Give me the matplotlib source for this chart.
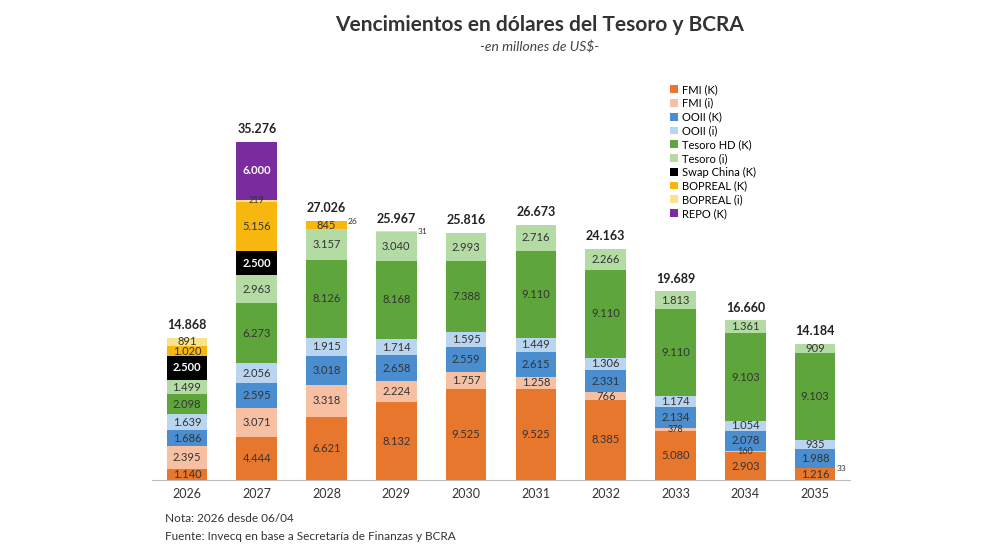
import matplotlib
matplotlib.use("Agg")
import matplotlib.pyplot as plt
import numpy as np

plt.rcParams['font.family'] = ['Lato', 'DejaVu Sans']

years = ["2026","2027","2028","2029","2030","2031","2032","2033","2034","2035"]
series = ["FMI (K)","FMI (i)","OOII (K)","OOII (i)","Tesoro HD (K)","Tesoro (i)",
          "Swap China (K)","BOPREAL (K)","BOPREAL (i)","REPO (K)"]
fmi_k   = [1140,4444,6621,8132,9525,9525,8385,5080,2903,1216]
fmi_i   = [2395,3071,3318,2224,1757,1258,766,378,160,33]
ooii_k  = [1686,2595,3018,2658,2559,2615,2331,2134,2078,1988]
ooii_i  = [1639,2056,1915,1714,1595,1449,1306,1174,1054,935]
tes_k   = [2098,6273,8126,8168,7388,9110,9110,9110,9103,9103]
tes_i   = [1499,2963,3157,3040,2993,2716,2266,1813,1361,909]
swap    = [2500,2500,0,0,0,0,0,0,0,0]
bop_k   = [1020,5156,845,0,0,0,0,0,0,0]
bop_i   = [891,219,26,31,0,0,0,0,0,0]
repo    = [0,6000,0,0,0,0,0,0,0,0]
totals  = ["14.868","35.276","27.026","25.967","25.816","26.673","24.163","19.689","16.660","14.184"]

data = [fmi_k,fmi_i,ooii_k,ooii_i,tes_k,tes_i,swap,bop_k,bop_i,repo]
colors = ["#E8772E","#F8C0A2","#4A8ED0","#B9D5EF","#5EA63B","#B5DBA4","#000000","#F8B70F","#F9E28E","#7A2C9E"]
txtcol = ["#333333"]*6 + ["white","#333333","#333333","white"]

fig = plt.figure(figsize=(9.9,5.58), dpi=100)
ax = fig.add_axes([152/990, 78/558, 698/990, 364/558])
x = np.arange(len(years))
bottom = np.zeros(len(years))
for vals, c, tc, name in zip(data, colors, txtcol, series):
    v = np.array(vals, float)
    ax.bar(x, v, 0.58, bottom=bottom, color=c, label=name)
    for i in range(len(x)):
        if v[i] > 0:
            lab = f"{int(v[i]):,}".replace(",", ".")
            if v[i] < 100:
                ax.text(x[i]+0.31, bottom[i]+v[i]/2, lab, ha="left", va="center",
                        fontsize=6, color=tc)
                continue
            fs = 8 if v[i] > 400 else 6.5
            ax.text(x[i], bottom[i]+v[i]/2, lab,
                    ha="center", va="center", fontsize=fs, color=tc,
                    fontweight="bold" if tc == "white" else "normal")
    bottom += v
for i in range(len(x)):
    ax.text(x[i], bottom[i]+700, totals[i], ha="center", va="bottom",
            fontsize=9, fontweight="bold", color="#222222")
ax.set_xlim(-0.5, 9.5)
ax.set_ylim(0, 38000)
ax.set_xticks(x)
ax.set_xticklabels(years, fontsize=9, color="#333333")
ax.tick_params(axis="x", length=0, pad=6)
ax.set_yticks([])
for s in ["top","right","left"]:
    ax.spines[s].set_visible(False)
ax.spines["bottom"].set_color("#bbbbbb")

fig.text(0.545, 0.945, "Vencimientos en dólares del Tesoro y BCRA", ha="center",
         fontsize=15, fontweight="bold", color="#333333")
fig.text(0.545, 0.908, "-en millones de US$-", ha="center", fontsize=10,
         style="italic", color="#444444")

handles, labels = ax.get_legend_handles_labels()
leg = fig.legend(handles, labels, loc="upper left", bbox_to_anchor=(660/990, 1-74/558),
                 frameon=False, fontsize=8, handlelength=0.7, handleheight=0.7,
                 labelspacing=0.25, handletextpad=0.4)

fig.text(165/990, 1-522/558, "Nota: 2026 desde 06/04", fontsize=8.5, color="#333333")
fig.text(165/990, 1-540/558, "Fuente: Invecq en base a Secretaría de Finanzas y BCRA",
         fontsize=8.5, color="#333333")
fig.savefig("out.png", dpi=100, facecolor="white")
